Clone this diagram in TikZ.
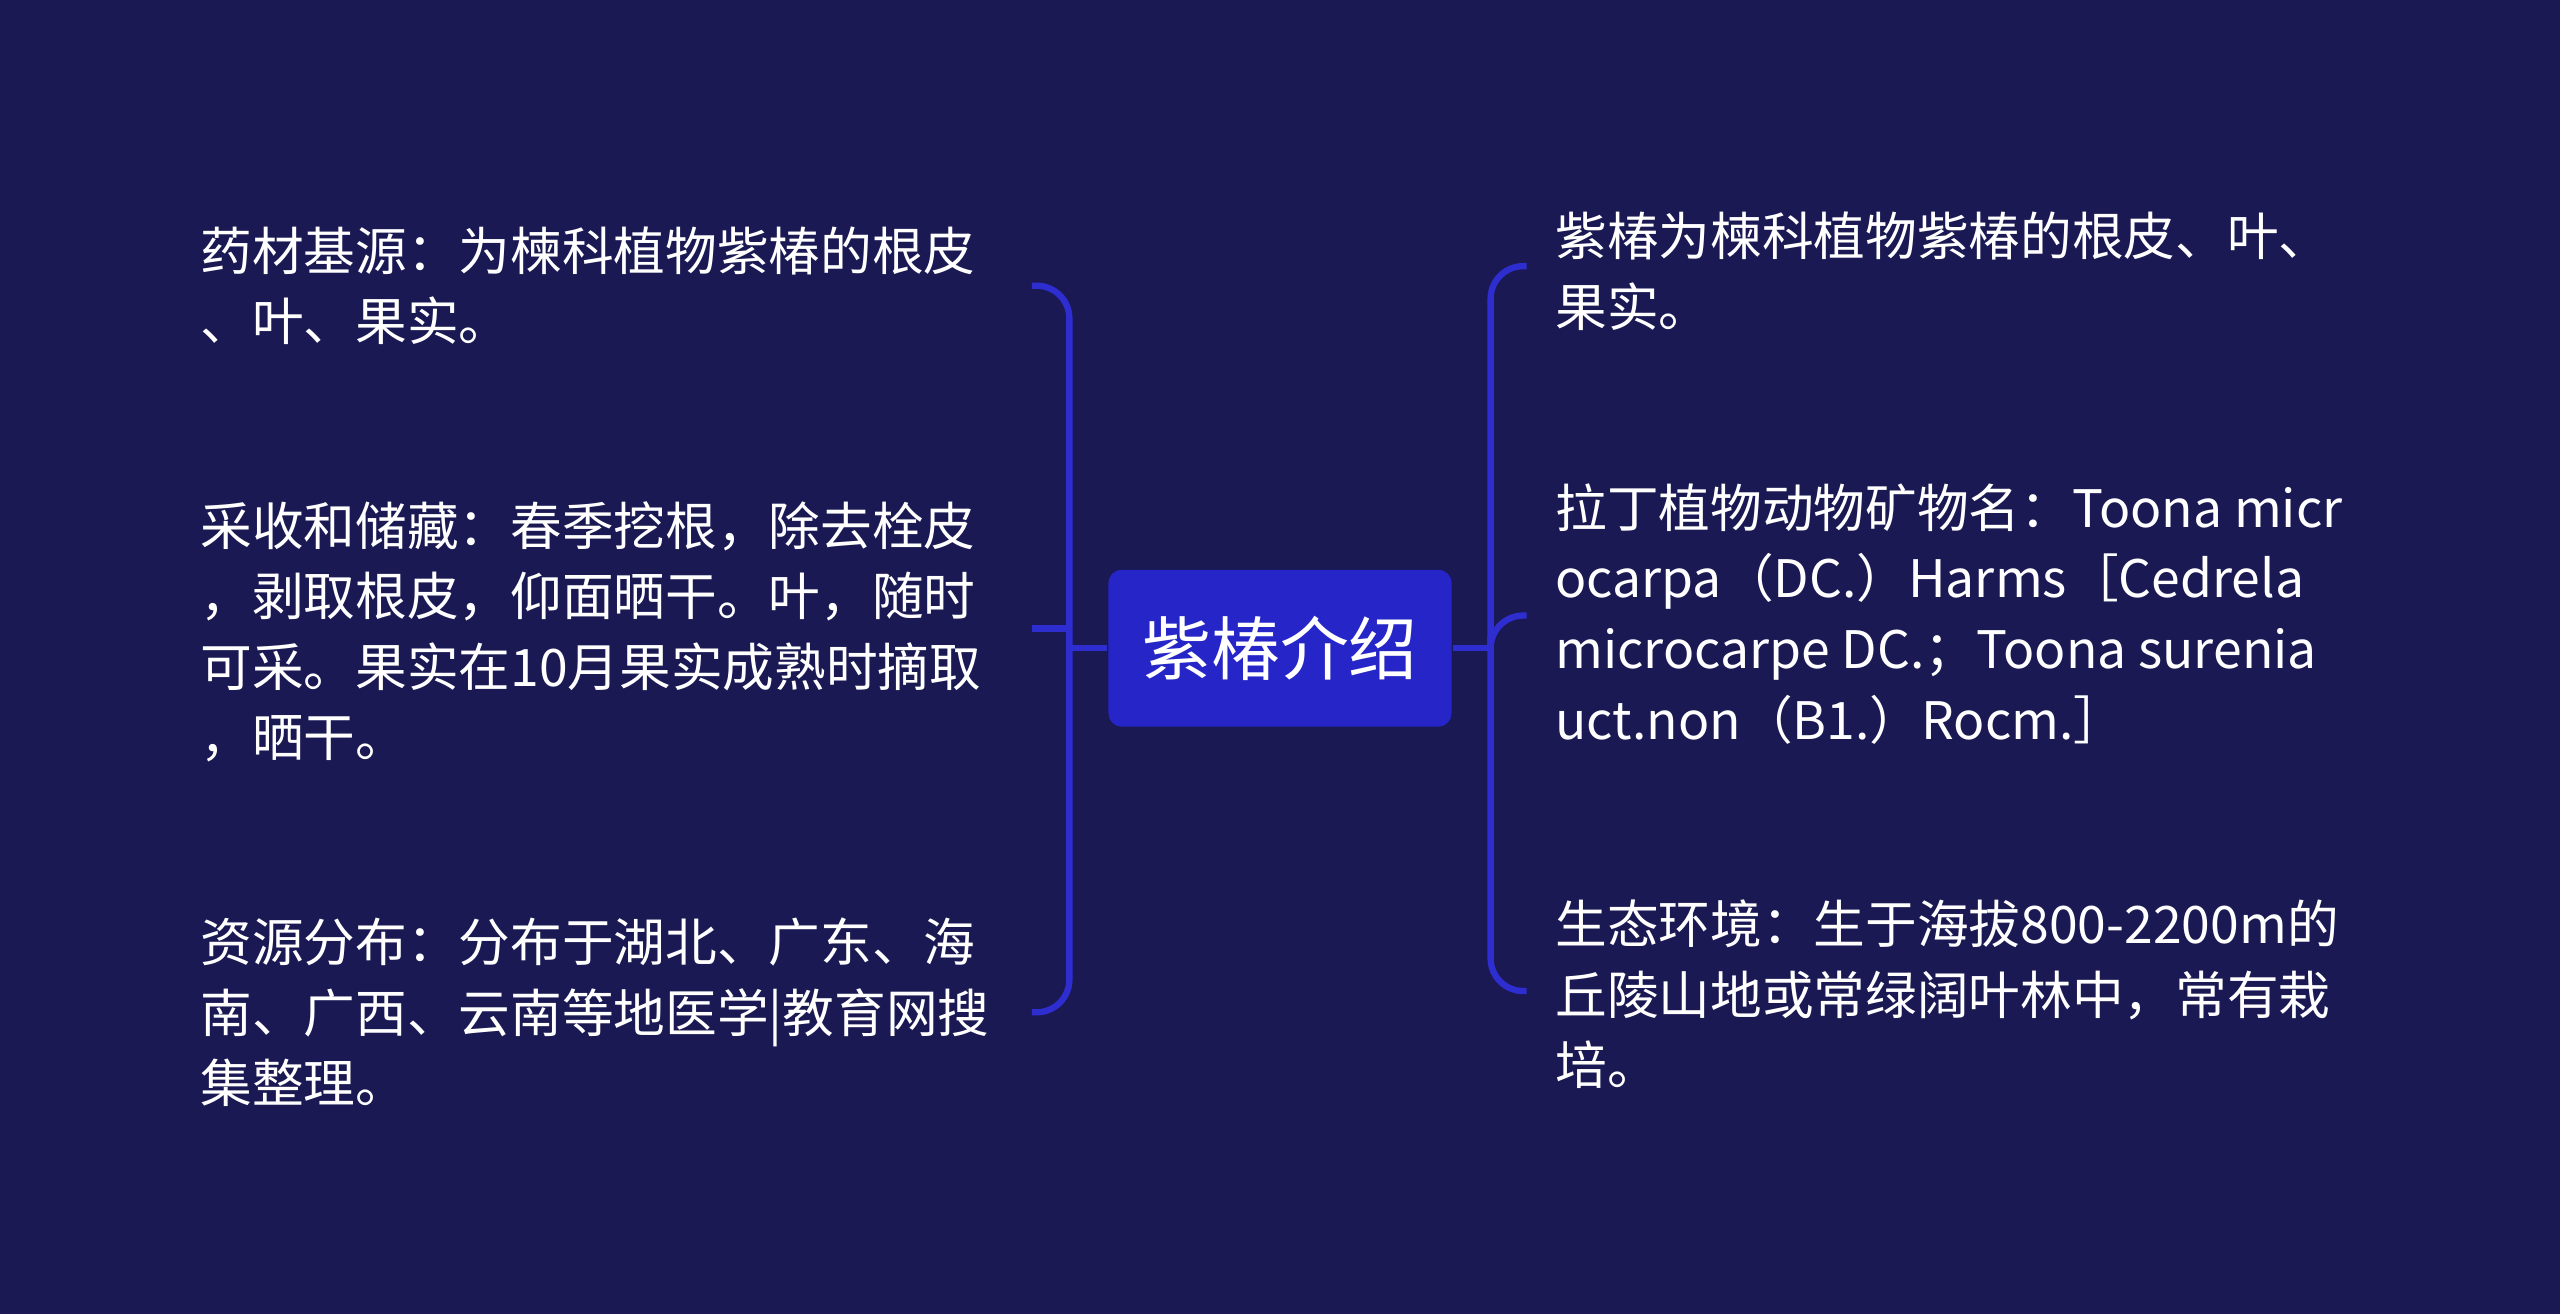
\documentclass[tikz,border=0pt]{standalone}
\usepackage{fontspec}
\setmainfont{Noto Sans CJK SC}
\usepackage{tikz}

\definecolor{bgNavy}{HTML}{1A1953}
\definecolor{hubBlue}{HTML}{2626C8}
\definecolor{lineBlue}{HTML}{2E2ED0}

\begin{document}
\begin{tikzpicture}[x=0.01cm,y=-0.01cm,
	leafText/.style={anchor=west,align=left,inner sep=0pt,text=white,font=\fontsize{9pt}{12.3pt}\selectfont},
	hubBox/.style={fill=hubBlue,rounded corners=0.08cm,text=white,minimum width=2.1cm,minimum height=0.96cm,font=\fontsize{12pt}{14pt}\selectfont},
	branch/.style={draw=lineBlue,line width=1.1pt,rounded corners=0.2cm}]
		\fill[bgNavy] (0,0) rectangle (1568,805);

		% Central topic
		\node[hubBox] (hub) at (784,397) {紫椿介绍};

		% Left side
		\node[leafText] (herb) at (122,175) {药材基源：为楝科植物紫椿的根皮\\、叶、果实。};
		\node[leafText] (harvest) at (122,387) {采收和储藏：春季挖根，除去栓皮\\，剥取根皮，仰面晒干。叶，随时\\可采。果实在10月果实成熟时摘取\\，晒干。};
		\node[leafText] (region) at (122,620) {资源分布：分布于湖北、广东、海\\南、广西、云南等地医学|教育网搜\\集整理。};

		% Right side
		\node[leafText] (source) at (952,166) {紫椿为楝科植物紫椿的根皮、叶、\\果实。};
		\node[leafText] (latin) at (952,376) {拉丁植物动物矿物名：Toona micr\\ocarpa（DC.）Harms［Cedrela\\microcarpe DC.；Toona surenia\\uct.non（B1.）Rocm.］};
		\node[leafText] (habitat) at (952,609) {生态环境：生于海拔800-2200m的\\丘陵山地或常绿阔叶林中，常有栽\\培。};

		% Connectors
		\coordinate (lA) at (632,175);
		\coordinate (lB) at (632,385);
		\coordinate (lC) at (632,620);
		\coordinate (rA) at (935,163);
		\coordinate (rB) at (935,377);
		\coordinate (rC) at (935,607);
		\draw[branch] (lA) -- (655,175) -- (655,620) -- (lC);
		\draw[draw=lineBlue,line width=1.1pt] (lB) -- (655,385);
		\draw[draw=lineBlue,line width=1.1pt] (hub.west) -- (655,397);
		\draw[branch] (rA) -- (913,163) -- (913,607) -- (rC);
		\draw[branch] (hub.east) -- (913,397);
		\draw[branch] (913,390) |- (rB);
\end{tikzpicture}
\end{document}
